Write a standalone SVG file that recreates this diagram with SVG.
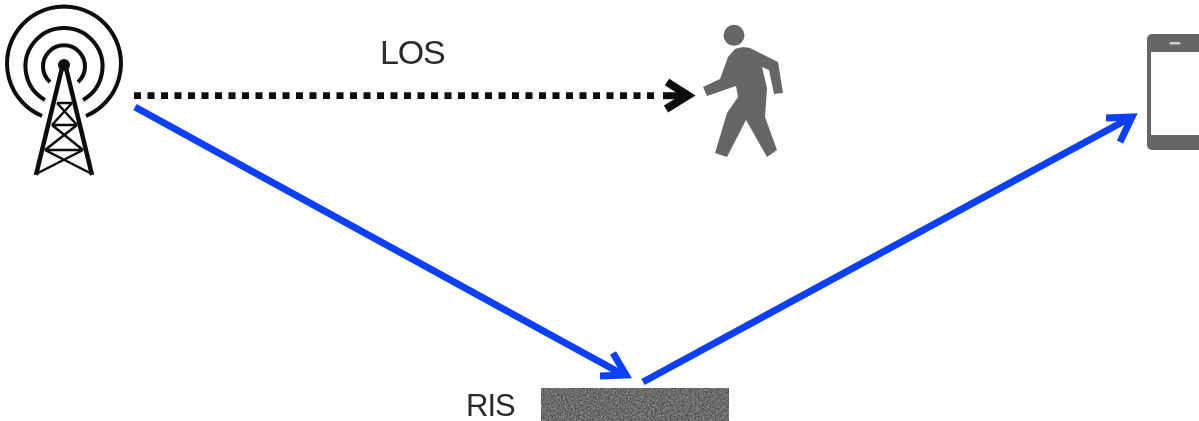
<svg xmlns="http://www.w3.org/2000/svg" width="1199" height="421" viewBox="0 0 1199 421">
<defs>
<filter id="soft" x="-5%" y="-5%" width="110%" height="110%"><feGaussianBlur stdDeviation="0.6"/></filter>
<filter id="grain" x="0" y="0" width="100%" height="100%" color-interpolation-filters="sRGB">
<feTurbulence type="fractalNoise" baseFrequency="0.6" numOctaves="2" seed="4" result="n"/>
<feColorMatrix in="n" type="matrix" values="0.5 0 0 0 0.17  0.5 0 0 0 0.17  0.5 0 0 0 0.17  0 0 0 0 1" result="c"/>
<feComposite in="c" in2="SourceGraphic" operator="in"/>
</filter>
</defs>
<style>
.t{font-family:"Liberation Sans",Arial,sans-serif;font-size:31px;fill:#2a2a2a;letter-spacing:-1px}
.b{fill:none;stroke:#0a40f5;stroke-width:7}
.g{fill:#666}
</style>
<rect width="1199" height="421" fill="#fff"/>
<g id="connectors" filter="url(#soft)">
<path d="M134 95.700H660" fill="none" stroke="#0a0a0a" stroke-width="6.800" stroke-dasharray="7 6.500"/>
<path d="M663 95.700H688" fill="none" stroke="#0a0a0a" stroke-width="7"/>
<path d="M667 82L688 95.500L666 109" fill="none" stroke="#0a0a0a" stroke-width="8"/>
<path class="b" d="M135 107L622 374"/>
<path class="b" d="M613 353L626 375L600 376"/>
<path class="b" d="M643 382L1128 119"/>
<path class="b" d="M1106 118L1132 117L1120 142"/>
</g>
<g id="tower" filter="url(#soft)">
<g fill="none" stroke="#0a0a0a" stroke-width="4">
<path d="M50 82A21 21 0 1 1 78 82"/>
<path d="M45 100A38.500 38.500 0 1 1 83 100"/>
<path d="M42 116A57 57 0 1 1 86 116"/>
</g>
<circle cx="64" cy="65" r="6" fill="#0a0a0a"/>
<g fill="none" stroke="#0a0a0a">
<path stroke-width="4.500" d="M62 68L36 175M66 68L92 175"/>
<path stroke-width="2.500" d="M57 103H72M52 125H77M45 150H83M57 103L77 125M72 103L52 125M52 125L83 150M77 125L45 150M45 150L92 174M83 150L36 174"/>
</g>
</g>
<g id="person" filter="url(#soft)">
<circle cx="734" cy="35.300" r="10.500" class="g"/>
<path class="g" d="M735 49C740 47 746 47 750 48L778 62L783 93L774 94L769 70L762 67L767 88L765 117L777 150L767 157L746 120L727 157L715 153L727 113L738 97L736 86L707 96L703 87L720 79L728 57Z"/>
</g>
<g id="phone" filter="url(#soft)">
<rect x="1147" y="34" width="60" height="116" rx="5" fill="#666"/>
<rect x="1151" y="52" width="60" height="83" fill="#fff"/>
<rect x="1169.500" y="42" width="11" height="2.500" rx="1" fill="#ccc"/>
</g>
<g id="ris">
<rect x="541" y="388" width="188" height="33" fill="#6a6a6a" filter="url(#grain)"/>
<text class="t" x="466" y="416" filter="url(#soft)">RIS</text>
</g>
<g id="los-label"><text class="t" x="380" y="63.500" filter="url(#soft)" style="font-size:34px;letter-spacing:-1.200px">LOS</text></g>
</svg>
